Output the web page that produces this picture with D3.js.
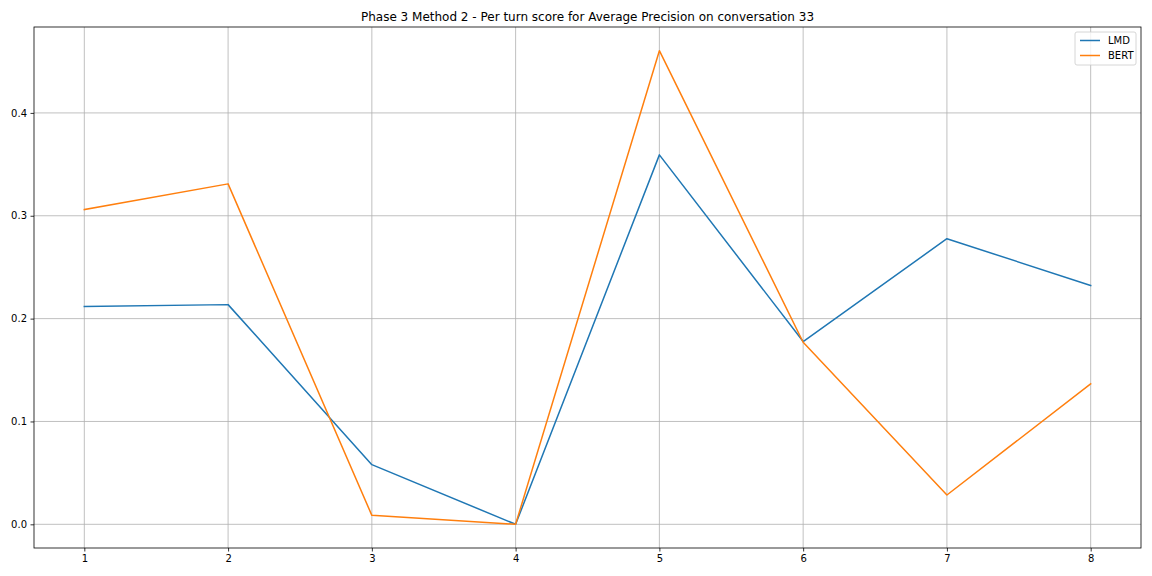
<!DOCTYPE html>
<html><head><meta charset="utf-8">
<script src="https://cdn.jsdelivr.net/npm/d3@7"></script>
<style>body{margin:0;background:#fff}svg{font-family:"DejaVu Sans",sans-serif}</style>
</head><body><svg id="c" width="1152" height="576"></svg>
<script>
const turns = [1,2,3,4,5,6,7,8];
const lmd  = [0.2117,0.2136,0.0580,0.0000,0.3592,0.1777,0.2777,0.2322];
const bert = [0.3060,0.3310,0.0087,0.0000,0.4605,0.1770,0.0285,0.1366];
const seriesNames = ["LMD","BERT"];
const colors = ["#1f77b4","#ff7f0e"];
const yTicks = [0.0,0.1,0.2,0.3,0.4];
const title = "Phase 3 Method 2 - Per turn score for Average Precision on conversation 33";

const L=34,R=1141,T=27,B=548;
const svg=d3.select("#c");
const x=d3.scaleLinear().domain([0.65,8.35]).range([L,R]);
const y=d3.scaleLinear().domain([-0.02303,0.48353]).range([B,T]);

// grid
svg.append("g").selectAll("line").data(turns).join("line")
 .attr("x1",d=>x(d)).attr("x2",d=>x(d)).attr("y1",T).attr("y2",B)
 .attr("stroke","#b0b0b0").attr("stroke-width",0.8);
svg.append("g").selectAll("line").data(yTicks).join("line")
 .attr("y1",d=>y(d)).attr("y2",d=>y(d)).attr("x1",L).attr("x2",R)
 .attr("stroke","#b0b0b0").attr("stroke-width",0.8);

// axes
const xa=svg.append("g").attr("transform",`translate(0,${B})`)
 .call(d3.axisBottom(x).tickValues(turns).tickFormat(d3.format("d")).tickSize(3.5).tickPadding(3.5));
const ya=svg.append("g").attr("transform",`translate(${L},0)`)
 .call(d3.axisLeft(y).tickValues(yTicks).tickFormat(d3.format(".1f")).tickSize(3.5).tickPadding(3.5));
[xa,ya].forEach(a=>{a.select(".domain").remove();a.selectAll("text").attr("font-size",10).attr("fill","#000").attr("font-family","DejaVu Sans");a.selectAll("line").attr("stroke","#000").attr("stroke-width",0.8);});

// lines
const line=d3.line().x((d,i)=>x(turns[i])).y(d=>y(d));
[lmd,bert].forEach((s,k)=>{
 svg.append("path").datum(s).attr("d",line).attr("fill","none")
  .attr("stroke",colors[k]).attr("stroke-width",1.5).attr("stroke-linejoin","round").attr("stroke-linecap","square");
});

// frame
svg.append("rect").attr("x",L).attr("y",T).attr("width",R-L).attr("height",B-T)
 .attr("fill","none").attr("stroke","#000").attr("stroke-width",0.8);

// title
svg.append("text").attr("x",(L+R)/2).attr("y",21).attr("text-anchor","middle")
 .attr("font-size",12).text(title);

// legend
const lg=svg.append("g").attr("transform","translate(1075,32)");
lg.append("rect").attr("width",61).attr("height",33).attr("rx",2)
 .attr("fill","#fff").attr("fill-opacity",0.8).attr("stroke","#cccccc").attr("stroke-width",0.8);
seriesNames.forEach((n,i)=>{
 const yy=8.5+i*15;
 lg.append("line").attr("x1",5).attr("x2",25).attr("y1",yy).attr("y2",yy)
  .attr("stroke",colors[i]).attr("stroke-width",1.5);
 lg.append("text").attr("x",33).attr("y",yy+3.5).attr("font-size",10).text(n);
});
</script></body></html>
